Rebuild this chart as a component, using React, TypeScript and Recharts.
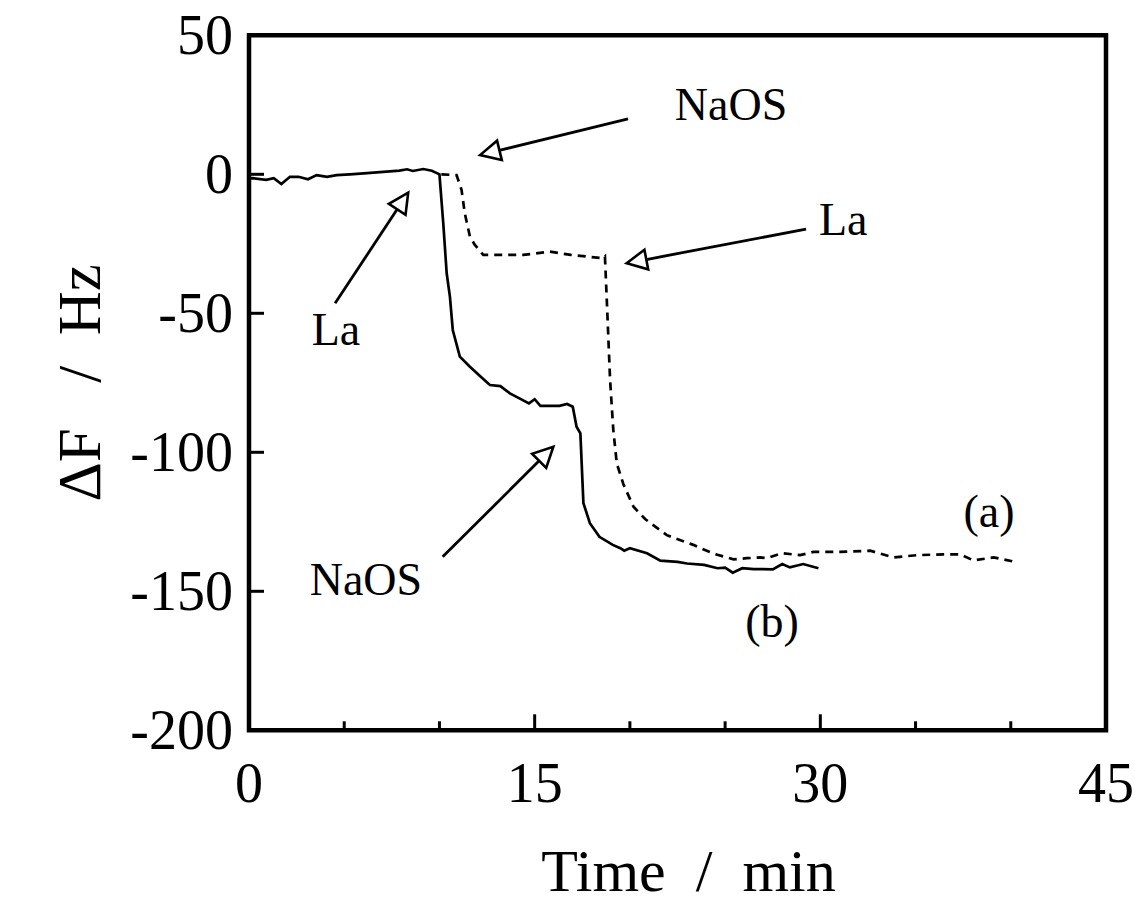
import React from 'react';
import {
  LineChart,
  Line,
  XAxis,
  YAxis,
  ReferenceArea,
  ReferenceLine,
  ReferenceDot,
  Label,
} from 'recharts';

// Curve (b): solid trace, time in min, frequency shift in Hz
const timeB = [
  0, 0.2, 0.9, 1.3, 1.7, 2.15, 2.6, 3.1, 3.55, 4.1, 4.6, 5.3, 6.2, 7.05, 7.9, 8.3, 8.6, 9.15, 9.6,
  10.0, 10.2, 10.38, 10.55, 10.7, 11.07, 11.6, 12.2, 12.65, 13.2, 13.7, 14.2, 14.7, 15.0, 15.3,
  16.3, 16.7, 17.0, 17.2, 17.4, 17.56, 17.9, 18.4, 19.1, 19.5, 19.7, 20.0, 20.9, 21.6, 22.5, 23.0,
  23.9, 24.6, 25.0, 25.4, 25.9, 26.5, 27.5, 28.0, 28.4, 29.1, 29.9,
];
const deltaB = [
  -1.5, -1.4, -2.0, -1.4, -3.5, -0.9, -0.9, -1.8, -0.3, -0.9, -0.3, 0, 0.4, 0.9, 1.3, 1.8, 1.2, 1.9, 1.3,
  0, -17.6, -35.6, -44, -56, -65.6, -69.2, -73, -75.8, -76.2, -78.8, -80.6, -82.4, -80.9, -83.3,
  -83.3, -82.6, -83.6, -90.8, -93.2, -118.3, -125.5, -130.4, -133.3, -134.5, -135.4, -134.5, -136.3,
  -139, -139.4, -140, -140.5, -141.7, -141.5, -143.3, -141.7, -142, -142.1, -140.2, -141.4, -140.2,
  -141.7,
];

// Curve (a): dashed trace
const timeA = [
  10.1, 10.9, 11.16, 11.33, 11.6, 11.86, 12.3, 13.2, 14.4, 15.8, 16.9, 18.6, 18.69, 18.78, 18.96,
  19.13, 19.31, 19.66, 20.19, 20.8, 21.94, 23.33, 24.4, 25.44, 26.14, 26.84, 27.2, 27.97, 28.94,
  29.64, 31.04, 32.62, 33.84, 35.07, 36.47, 37.34, 38.04, 39.1, 40.23,
];
const deltaA = [
  0, -0.3, -5.6, -14, -22.4, -25.4, -29, -29, -29, -27.8, -29, -30.2, -29.6, -44, -74, -92, -104,
  -111.5, -119.6, -124, -129.8, -133.3, -136.5, -138.5, -138.1, -137.8, -138.1, -136.3, -137,
  -135.8, -135.8, -135.4, -137.8, -137, -136.7, -136.7, -138.9, -137.8, -139.4,
];

// Axis ticks
const xTicks = [0, 5, 10, 15, 20, 25, 30, 35, 40, 45];
const xLabelled = [0, 15, 30, 45];
const yTicks = [-200, -150, -100, -50, 0, 50];

// Annotation arrows: tail -> tip, in (min, Hz)
const arrowTails = [
  [19.9, 19.9],
  [4.52, -46.4],
  [10.17, -137.6],
  [29.25, -19.7],
];
const arrowTips = [
  [12.13, 6.9],
  [8.36, -6.6],
  [15.98, -98],
  [19.83, -32],
];

// Annotation texts (centre, baseline) in (min, Hz)
const noteTexts = ['NaOS', 'La', 'NaOS', 'La', '(a)', '(b)'];
const noteT = [25.31, 4.57, 6.14, 31.2, 38.86, 27.46];
const noteV = [19.5, -61.4, -151.3, -21.8, -127, -166.4];

const dataA = timeA.map((t, i) => ({ t, v: deltaA[i] }));
const dataB = timeB.map((t, i) => ({ t, v: deltaB[i] }));

const FONT = '"Liberation Serif", "Times New Roman", serif';

const XTick = (props: any) => {
  const { x, y, payload } = props;
  const val = payload.value;
  const major = val === 15 || val === 30;
  const edge = val === 0 || val === 45;
  return (
    <g>
      {!edge && (
        <line x1={x} y1={y} x2={x} y2={y - (major ? 16 : 9)} stroke="#000" strokeWidth={3} />
      )}
      {xLabelled.includes(val) && (
        <text x={x} y={y + 72} textAnchor="middle" fontFamily={FONT} fontSize={56} fill="#000">
          {val}
        </text>
      )}
    </g>
  );
};

const YTick = (props: any) => {
  const { x, y, payload } = props;
  const val = payload.value;
  const edge = val === -200 || val === 50;
  return (
    <g>
      {!edge && <line x1={x} y1={y} x2={x + 15} y2={y} stroke="#000" strokeWidth={3} />}
      <text x={x - 16} y={y + 19} textAnchor="end" fontFamily={FONT} fontSize={56} fill="#000">
        {val}
      </text>
    </g>
  );
};

const ArrowShape = (p: any) => {
  const { x1, y1, x2, y2 } = p;
  const dx = x2 - x1;
  const dy = y2 - y1;
  const len = Math.hypot(dx, dy) || 1;
  const ux = dx / len;
  const uy = dy / len;
  const headLen = 20;
  const headHalf = 10;
  const bx = x2 - ux * headLen;
  const by = y2 - uy * headLen;
  const nx = -uy;
  const ny = ux;
  return (
    <g>
      <line x1={x1} y1={y1} x2={bx} y2={by} stroke="#000" strokeWidth={2.8} />
      <polygon
        points={`${x2},${y2} ${bx + nx * headHalf},${by + ny * headHalf} ${bx - nx * headHalf},${by - ny * headHalf}`}
        fill="#fff"
        stroke="#000"
        strokeWidth={2.6}
        strokeLinejoin="miter"
      />
    </g>
  );
};

const makeNote = (text: string) => (p: any) => (
  <text x={p.cx} y={p.cy} textAnchor="middle" fontFamily={FONT} fontSize={46} fill="#000">
    {text}
  </text>
);

const XTitle = (props: any) => {
  const vb = props.viewBox || {};
  return (
    <text
      x={vb.x + vb.width / 2 + 11}
      y={vb.y + 161}
      textAnchor="middle"
      fontFamily={FONT}
      fontSize={60}
      fill="#000"
      style={{ whiteSpace: 'pre' }}
    >
      {'Time  /  min'}
    </text>
  );
};

const YTitle = (props: any) => {
  const vb = props.viewBox || {};
  const cx = 100;
  const cy = vb.y + vb.height / 2;
  return (
    <text
      x={cx}
      y={cy}
      transform={`rotate(-90, ${cx}, ${cy})`}
      textAnchor="middle"
      fontFamily={FONT}
      fontSize={61}
      fill="#000"
      style={{ whiteSpace: 'pre' }}
    >
      {'ΔF   /  Hz'}
    </text>
  );
};

export default function App() {
  return (
    <div style={{ position: 'absolute', left: 0, top: 0, background: '#fff' }}>
      <LineChart
        width={1135}
        height={909}
        margin={{ top: 35.3, right: 29, bottom: 118.7, left: 169 }}
      >
        <XAxis
          type="number"
          dataKey="t"
          domain={[0, 45]}
          ticks={xTicks}
          interval={0}
          tickSize={0}
          tickMargin={0}
          axisLine={false}
          tickLine={false}
          tick={<XTick />}
          height={60}
          allowDataOverflow
        >
          <Label content={<XTitle />} />
        </XAxis>
        <YAxis
          type="number"
          domain={[-200, 50]}
          ticks={yTicks}
          interval={0}
          tickSize={0}
          tickMargin={0}
          axisLine={false}
          tickLine={false}
          tick={<YTick />}
          width={80}
          allowDataOverflow
        >
          <Label content={<YTitle />} />
        </YAxis>
        <ReferenceArea
          x1={0}
          x2={45}
          y1={-200}
          y2={50}
          fill="none"
          fillOpacity={0}
          stroke="#000"
          strokeWidth={4.5}
          ifOverflow="visible"
        />
        <Line
          data={dataB}
          dataKey="v"
          type="linear"
          stroke="#000"
          strokeWidth={2.7}
          dot={false}
          isAnimationActive={false}
        />
        <Line
          data={dataA}
          dataKey="v"
          type="linear"
          stroke="#000"
          strokeWidth={2.7}
          strokeDasharray="8 6"
          dot={false}
          isAnimationActive={false}
        />
        {arrowTails.map((tail, i) => (
          <ReferenceLine
            key={`arrow-${i}`}
            segment={[
              { x: tail[0], y: tail[1] },
              { x: arrowTips[i][0], y: arrowTips[i][1] },
            ]}
            ifOverflow="visible"
            shape={ArrowShape}
          />
        ))}
        {noteTexts.map((txt, i) => (
          <ReferenceDot
            key={`note-${i}`}
            x={noteT[i]}
            y={noteV[i]}
            r={0}
            ifOverflow="visible"
            shape={makeNote(txt)}
          />
        ))}
      </LineChart>
    </div>
  );
}
